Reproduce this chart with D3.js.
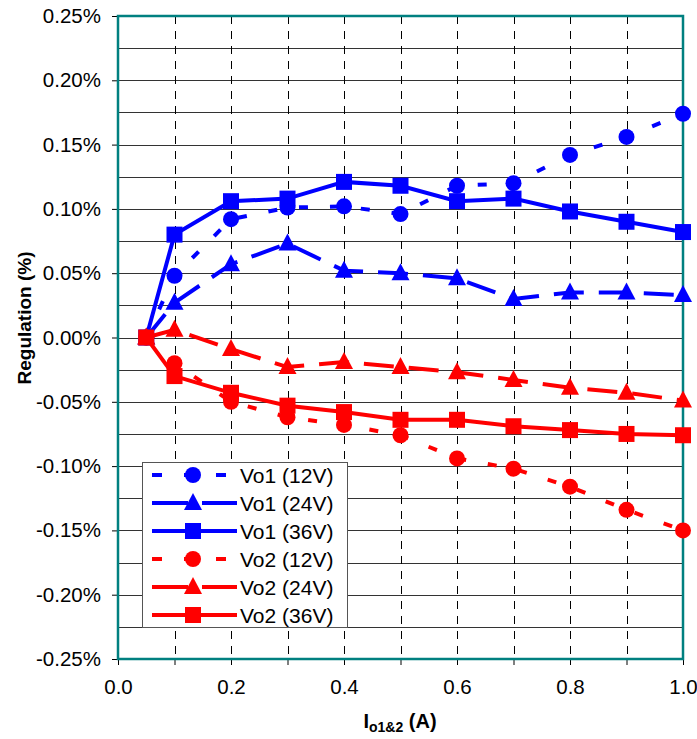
<!DOCTYPE html>
<html>
<head>
<meta charset="utf-8">
<script src="https://cdn.jsdelivr.net/npm/d3@7"></script>
<style>
  body { margin: 0; background: #fff; }
  text { font-family: "Liberation Sans", Arial, sans-serif; }
</style>
</head>
<body>
<div id="chart"></div>
<script>
const loads = [0.05, 0.1, 0.2, 0.3, 0.4, 0.5, 0.6, 0.7, 0.8, 0.9, 1.0];

const vo1_12 = [0, 0.048, 0.092, 0.101, 0.102, 0.096, 0.118, 0.120, 0.142, 0.156, 0.174];
const vo1_24 = [0, 0.027, 0.057, 0.073, 0.052, 0.050, 0.046, 0.030, 0.035, 0.035, 0.033];
const vo1_36 = [0, 0.080, 0.106, 0.108, 0.121, 0.118, 0.106, 0.108, 0.098, 0.090, 0.082];
const vo2_12 = [0, -0.020, -0.050, -0.062, -0.068, -0.076, -0.094, -0.102, -0.116, -0.134, -0.150];
const vo2_24 = [0, 0.006, -0.009, -0.023, -0.019, -0.023, -0.027, -0.033, -0.039, -0.043, -0.049];
const vo2_36 = [0, -0.030, -0.043, -0.053, -0.058, -0.064, -0.064, -0.069, -0.072, -0.075, -0.076];

const seriesNames = ['Vo1 (12V)', 'Vo1 (24V)', 'Vo1 (36V)', 'Vo2 (12V)', 'Vo2 (24V)', 'Vo2 (36V)'];
const seriesValues = [vo1_12, vo1_24, vo1_36, vo2_12, vo2_24, vo2_36];

const yTicks = [-0.25, -0.20, -0.15, -0.10, -0.05, 0, 0.05, 0.10, 0.15, 0.20, 0.25];
const xTicks = [0, 0.2, 0.4, 0.6, 0.8, 1.0];

// looks per series: colour, dash, marker
const colors = ['#0000ff', '#0000ff', '#0000ff', '#ff0000', '#ff0000', '#ff0000'];
const dashes = ['9,22', '30,15', null, '9,22', '30,15', null];
const legendDashes = ['10,22', '36,14', null, '10,22', '36,14', null];
const markers = ['circle', 'triangle', 'square', 'circle', 'triangle', 'square'];

const width = 697, height = 739;
const plotLeft = 118, plotRight = 683, plotTop = 16, plotBottom = 659;

// plain hyphen for negatives, like the original
const fmt = d3.formatLocale({ decimal: '.', thousands: ',', grouping: [3], currency: ['', ''], minus: '-' });

const svg = d3.select('#chart')
  .append('svg')
    .attr('width', width)
    .attr('height', height);

const x = d3.scaleLinear().domain([0, 1]).range([plotLeft, plotRight]);
const y = d3.scaleLinear().domain([-0.25, 0.25]).range([plotBottom, plotTop]);

// horizontal grid every 0.025
const hGrid = d3.range(-0.225, 0.25, 0.025);
svg.append('g')
  .selectAll('line')
  .data(hGrid)
  .join('line')
    .attr('x1', plotLeft)
    .attr('x2', plotRight)
    .attr('y1', d => Math.round(y(d)) + 0.5)
    .attr('y2', d => Math.round(y(d)) + 0.5)
    .attr('stroke', '#333')
    .attr('stroke-width', 1);

// vertical dashed grid
svg.append('g')
  .selectAll('line')
  .data(d3.range(1, 10).map(i => i / 10))
  .join('line')
    .attr('x1', d => Math.round(x(d)) + 0.5)
    .attr('x2', d => Math.round(x(d)) + 0.5)
    .attr('y1', plotTop)
    .attr('y2', plotBottom)
    .attr('stroke', '#000')
    .attr('stroke-width', 1)
    .attr('stroke-dasharray', '8,7');

// axes
const yAxis = svg.append('g')
  .attr('transform', `translate(${plotLeft},0)`)
  .call(d3.axisLeft(y).tickValues(yTicks).tickSize(6).tickPadding(11)
    .tickFormat(d => fmt.format('.2f')(d) + '%'));
yAxis.select('.domain').remove();
yAxis.selectAll('text').style('font-size', '20.5px').attr('fill', '#000');

const xAxis = svg.append('g')
  .attr('transform', `translate(0,${plotBottom})`)
  .call(d3.axisBottom(x).tickValues(d3.range(0, 11).map(i => i / 10)).tickSize(6).tickPadding(14)
    .tickFormat(d => xTicks.some(t => Math.abs(t - d) < 1e-9) ? fmt.format('.1f')(d) : ''));
xAxis.select('.domain').remove();
xAxis.selectAll('text').style('font-size', '20.5px').attr('fill', '#000');

// frame
svg.append('rect')
  .attr('x', plotLeft)
  .attr('y', plotTop)
  .attr('width', plotRight - plotLeft)
  .attr('height', plotBottom - plotTop)
  .attr('fill', 'none')
  .attr('stroke', '#008080')
  .attr('stroke-width', 2.5);

const line = d3.line()
  .x((d, i) => x(loads[i]))
  .y(d => y(d));

function drawMarker(g, type, cx, cy, color) {
  if (type === 'circle') {
    g.append('circle').attr('cx', cx).attr('cy', cy).attr('r', 8).attr('fill', color);
  } else if (type === 'square') {
    g.append('rect').attr('x', cx - 8).attr('y', cy - 8).attr('width', 16).attr('height', 16).attr('fill', color);
  } else {
    g.append('path')
      .attr('d', `M${cx},${cy - 10}L${cx + 9},${cy + 7}L${cx - 9},${cy + 7}Z`)
      .attr('fill', color);
  }
}

seriesValues.forEach((vals, s) => {
  const g = svg.append('g');
  g.append('path')
    .datum(vals)
    .attr('d', line)
    .attr('fill', 'none')
    .attr('stroke', colors[s])
    .attr('stroke-width', 4)
    .attr('stroke-dasharray', dashes[s]);
  vals.forEach((v, i) => drawMarker(g, markers[s], x(loads[i]), y(v), colors[s]));
});

// legend
const legend = svg.append('g');
legend.append('rect')
  .attr('x', 142.5)
  .attr('y', 462.5)
  .attr('width', 205)
  .attr('height', 165)
  .attr('fill', '#fff')
  .attr('stroke', '#555')
  .attr('stroke-width', 1);

seriesNames.forEach((name, s) => {
  const ly = 475 + s * 28;
  const row = legend.append('g');
  row.append('line')
    .attr('x1', 152)
    .attr('x2', 237)
    .attr('y1', ly)
    .attr('y2', ly)
    .attr('stroke', colors[s])
    .attr('stroke-width', 4)
    .attr('stroke-dasharray', legendDashes[s]);
  drawMarker(row, markers[s], 193, ly, colors[s]);
  row.append('text')
    .attr('x', 240)
    .attr('y', ly + 7.5)
    .style('font-size', '21px')
    .text(name);
});

// axis titles
svg.append('text')
  .attr('transform', 'translate(31,318) rotate(-90)')
  .attr('text-anchor', 'middle')
  .style('font-size', '19px')
  .style('font-weight', 'bold')
  .text('Regulation (%)');

const xt = svg.append('text')
  .attr('x', 400)
  .attr('y', 728)
  .attr('text-anchor', 'middle')
  .style('font-size', '20px')
  .style('font-weight', 'bold');
xt.append('tspan').text('I');
xt.append('tspan').attr('dy', 4).style('font-size', '14px').text('o1&2');
xt.append('tspan').attr('dy', -4).text(' (A)');
</script>
</body>
</html>
